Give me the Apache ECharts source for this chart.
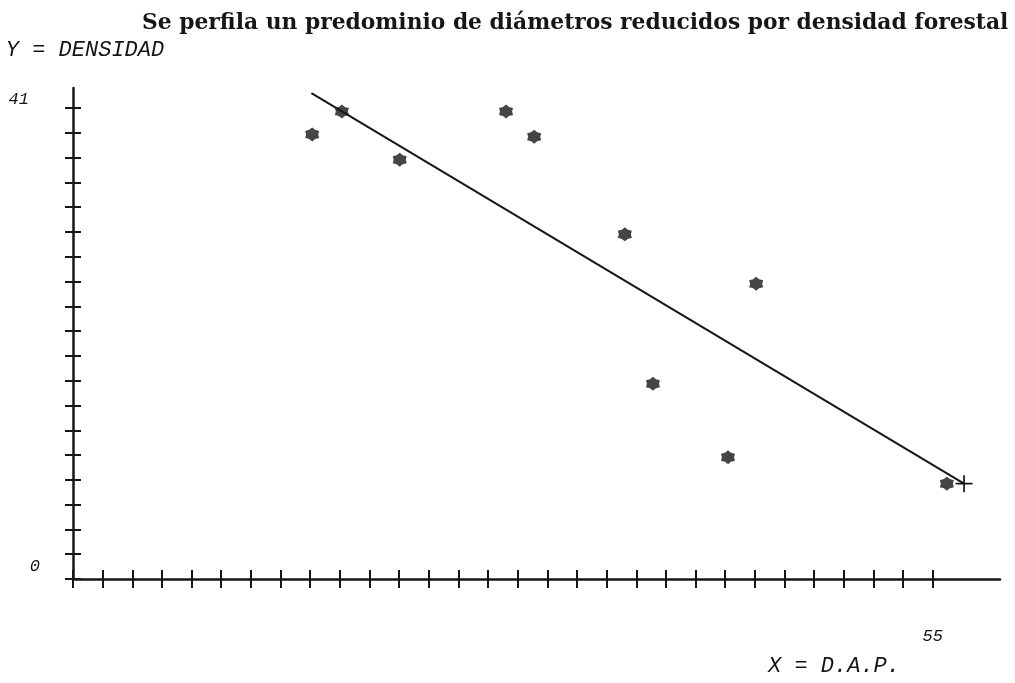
<!DOCTYPE html>
<html>
<head>
<meta charset="utf-8">
<title>Densidad vs D.A.P.</title>
<script src="https://cdn.jsdelivr.net/npm/echarts@6/dist/echarts.min.js"></script>
<style>
  html, body { margin: 0; padding: 0; background: #fff; }
  #chart { width: 1015px; height: 683px; }
</style>
</head>
<body>
<div id="chart"></div>
<script>
// valores
const dap = [15.3, 17.2, 20.9, 27.7, 29.5, 35.3, 43.7, 37.1, 41.9, 55.9]
const densidad = [38.7, 40.7, 36.5, 40.7, 38.5, 30.0, 25.7, 17.0, 10.6, 8.3]

// recta ajustada, extremos
const rectaX = [15.25, 57.0]
const rectaY = [42.3, 8.3]

// rotulos de los ejes
const xLabels = [55]
const yLabels = [0, 41]
const xDivisions = 29
const yDivisions = 19

const ink = '#161616'
const mono = '"Liberation Mono", "DejaVu Sans Mono", monospace'
const star = 'path://M10,0L13.75,3.5L18.66,5L17.5,10L18.66,15L13.75,16.5L10,20L6.25,16.5L1.34,15L2.5,10L1.34,5L6.25,3.5Z'
const plus = 'path://M9,0H11V9H20V11H11V20H9V11H0V9H9Z'

const xMax = xLabels[xLabels.length - 1]
const yMax = yLabels[yLabels.length - 1]
// marcas de division, repartidas entre 0 y el ultimo rotulo
const xTicks = Array.from({ length: xDivisions + 1 }, (_, i) => i * xMax / xDivisions)
const yTicks = Array.from({ length: yDivisions + 1 }, (_, i) => i * yMax / yDivisions)

const gridBox = { left: 73, right: 15, top: 88, bottom: 104 }

function tickAxis(gridIndex, max, ticks, len, inside) {
	return {
		gridIndex: gridIndex,
		type: 'value',
		min: 0,
		max: max,
		splitLine: { show: false },
		axisLine: inside ? { show: false } : { lineStyle: { color: ink, width: 2.5 } },
		axisTick: { inside: inside, length: len, customValues: ticks, lineStyle: { color: ink, width: 2 } },
		axisLabel: { show: false }
	}
}

const chart = echarts.init(document.getElementById('chart'))

const xMain = tickAxis(0, 59.3, xTicks, 9, false)
xMain.axisLabel = {
	show: true,
	customValues: xLabels,
	margin: 49,
	color: ink,
	fontFamily: mono,
	fontStyle: 'italic',
	fontSize: 17
}
xMain.name = 'X = D.A.P.'
xMain.nameLocation = 'end'
xMain.nameGap = -100
xMain.nameTextStyle = {
	align: 'right',
	verticalAlign: 'top',
	padding: [76, 0, 0, 0],
	color: ink,
	fontFamily: mono,
	fontStyle: 'italic',
	fontSize: 22
}

const yMain = tickAxis(0, 42.74, yTicks, 8, false)
yMain.axisLabel = {
	show: true,
	customValues: yLabels,
	margin: 33,
	formatter: v => (v === 0 ? '{o|0}' : '{t|' + v + '}'),
	rich: {
		o: { fontFamily: mono, fontStyle: 'italic', fontSize: 17, color: ink, padding: [0, 0, 26, 0] },
		t: { fontFamily: mono, fontStyle: 'italic', fontSize: 17, color: ink, padding: [0, 11, 16, 0] }
	}
}
yMain.name = 'Y = DENSIDAD'
yMain.nameLocation = 'end'
yMain.nameGap = 27
yMain.nameTextStyle = {
	align: 'center',
	verticalAlign: 'bottom',
	padding: [0, 0, 0, 24],
	color: ink,
	fontFamily: mono,
	fontStyle: 'italic',
	fontSize: 22
}

chart.setOption({
	backgroundColor: '#fff',
	animation: false,
	title: {
		text: 'Se perfila un predominio de diámetros reducidos por densidad forestal',
		left: 137,
		top: 7,
		textStyle: { fontFamily: '"DejaVu Serif", serif', fontWeight: 'bold', fontSize: 21.8, color: ink }
	},
	grid: [Object.assign({}, gridBox), Object.assign({}, gridBox)],
	xAxis: [xMain, tickAxis(1, 59.3, xTicks, 9, true)],
	yAxis: [yMain, tickAxis(1, 42.74, yTicks, 8, true)],
	series: [
		{
			type: 'line',
			xAxisIndex: 0,
			yAxisIndex: 0,
			clip: false,
			lineStyle: { color: ink, width: 2 },
			itemStyle: { color: ink },
			data: rectaX.map((x, i) => ({
				value: [x, rectaY[i]],
				symbol: i === rectaX.length - 1 ? plus : 'none',
				symbolSize: 17
			}))
		},
		{
			type: 'scatter',
			xAxisIndex: 0,
			yAxisIndex: 0,
			clip: false,
			symbol: star,
			symbolSize: 14,
			itemStyle: { color: ink },
			data: dap.map((x, i) => [x, densidad[i]])
		}
	]
})

window.addEventListener('resize', () => chart.resize())
</script>
</body>
</html>
